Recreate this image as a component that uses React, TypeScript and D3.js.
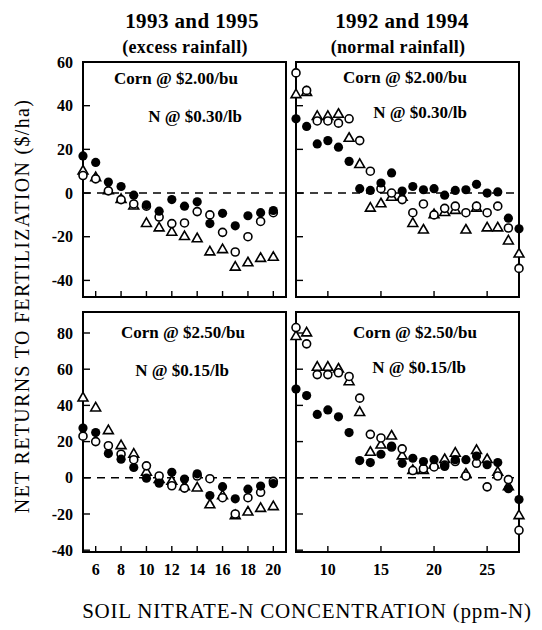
import React from "react";
import * as d3 from "d3";

// ---- data ----
const xLeft = [5, 6, 7, 8, 9, 10, 11, 12, 13, 14, 15, 16, 17, 18, 19, 20];
const xRight = [7, 8, 9, 10, 11, 12, 13, 14, 15, 16, 17, 18, 19, 20, 21, 22, 23, 24, 25, 26, 27, 28];

const tlFilled = [17, 14, 5, 3, -1, -5.4, -8.3, -3, -6, -4, -14, -9.3, -15, -10.4, -9, -8];
const tlOpen = [8, 6.5, 1, -3, -5, -6, -11, -14, -13.7, -8.5, -10, -18, -27, -20, -13, -9];
const tlTri = [10, 7, 1, -3, -6, -14, -16, -18, -20, -21, -27, -26, -34, -32, -30, -29.5];

const trFilled = [34, 30.5, 22.5, 24, 21, 14.5, 2, 1.2, 4.6, 9.2, 0.9, 3, 1.5, 2, -1, 1.2, 1.5, 4, 0, 0.5, -11.5, -16.4];
const trOpen = [55, 47, 33, 33, 32, 34, 24, 10, 2, 0, -3, -9, -5, -10, -7, -6, -9, -6, -9, -6, -16, -34.5];
const trTri = [45, 46, 35, 35, 36, 25, 13, -7, -5, -2, -2, -14, -17, -10, -9, -8, -17, -7, -16, -16, -22, -28];

const blFilled = [27.5, 25, 13.4, 10.3, 5.7, -0.2, -3, 3, -0.7, 2.2, -9.8, -4.9, -11.6, -6.3, -4.6, -3.2];
const blOpen = [23, 20, 17.7, 13, 10, 6.6, 1, -4.4, -5.7, 1, -0.5, -11, -20, -11, -8, -2];
const blTri = [44, 38.5, 26, 17.7, 13, 3, -1, -2, -5, -5.7, -15, -10, -21, -19, -17, -16];

const brFilled = [49, 45.4, 35, 37.5, 33.7, 25, 9.5, 8.4, 13, 17.5, 8, 10.8, 9, 10, 6.3, 10, 10, 12, 7.2, 8.4, -6, -12];
const brOpen = [83, 74, 57, 57, 58, 56, 44, 24, 22, 17, 16, 4, 5, 6, 7, 9, 1, 8, -5, 1, -1, -29];
const brTri = [78, 80, 61, 61, 60, 53, 36, 14, 18, 23, 12, 4, 4, 7, 10, 13.5, 2, 15, 10, 3, -5, -21];

const xTicksLeft = [6, 8, 10, 12, 14, 16, 18, 20];
const xTicksRight = [10, 15, 20, 25];
const yTicksTop = [60, 40, 20, 0, -20, -40];
const yTicksBottom = [80, 60, 40, 20, 0, -20, -40];

const titles = [
  { main: "1993 and 1995", sub: "(excess rainfall)" },
  { main: "1992 and 1994", sub: "(normal rainfall)" },
];
const priceTop = ["Corn @ $2.00/bu", "N @ $0.30/lb"];
const priceBottom = ["Corn @ $2.50/bu", "N @ $0.15/lb"];

// ---- layout ----
const FONT = "'Liberation Serif', 'Times New Roman', serif";
const leftRange: [number, number] = [83, 286];
const rightRange: [number, number] = [296, 519];
const topRange: [number, number] = [297, 62];
const bottomRange: [number, number] = [552, 312];

const xL = d3.scaleLinear().domain([5, 21]).range(leftRange);
const xR = d3.scaleLinear().domain([7, 28]).range(rightRange);
const yT = d3.scaleLinear().domain([-47.6, 60]).range(topRange);
const yB = d3.scaleLinear().domain([-41, 91.6]).range(bottomRange);

const tri = d3.symbol().type(d3.symbolTriangle).size(42)() as string;

type PanelProps = {
  x: d3.ScaleLinear<number, number>;
  y: d3.ScaleLinear<number, number>;
  xs: number[];
  filled: number[];
  open: number[];
  tris: number[];
  xTicks: number[];
  yTicks: number[];
  showYLabels: boolean;
  showXLabels: boolean;
  labels: string[];
  labelPos: { cx: number; by: number }[];
};

function Panel(p: PanelProps) {
  const [x0, x1] = p.x.range();
  const [y0, y1] = p.y.range(); // y0 bottom, y1 top
  return (
    <g>
      <line x1={x0} x2={x1} y1={p.y(0)} y2={p.y(0)} stroke="#000" strokeWidth={1.6} strokeDasharray="8,6" />
      {p.xTicks.map((t) => (
        <line key={"xt" + t} x1={p.x(t)} x2={p.x(t)} y1={y0} y2={y0 - 6} stroke="#000" strokeWidth={1.4} />
      ))}
      {p.yTicks.map((t) => (
        <line key={"yt" + t} x1={x0} x2={x0 + 7} y1={p.y(t)} y2={p.y(t)} stroke="#000" strokeWidth={1.4} />
      ))}
      <rect x={x0} y={y1} width={x1 - x0} height={y0 - y1} fill="none" stroke="#000" strokeWidth={2} />
      {p.showYLabels &&
        p.yTicks.map((t) => (
          <text key={"yl" + t} x={x0 - 10} y={p.y(t)} dy="0.35em" textAnchor="end" fontFamily={FONT} fontWeight="bold" fontSize={16}>
            {t < 0 ? "-" + Math.abs(t) : t}
          </text>
        ))}
      {p.showXLabels &&
        p.xTicks.map((t) => (
          <text key={"xl" + t} x={p.x(t)} y={y0 + 23} textAnchor="middle" fontFamily={FONT} fontWeight="bold" fontSize={16}>
            {t}
          </text>
        ))}
      {p.labels.map((s, i) => (
        <text key={"lb" + i} x={p.labelPos[i].cx} y={p.labelPos[i].by} textAnchor="middle" fontFamily={FONT} fontWeight="bold" fontSize={17}>
          {s}
        </text>
      ))}
      {p.xs.map((xv, i) => (
        <path key={"tr" + i} d={tri} transform={`translate(${p.x(xv)},${p.y(p.tris[i])})`} fill="#fff" stroke="#000" strokeWidth={1.6} />
      ))}
      {p.xs.map((xv, i) => (
        <circle key={"oc" + i} cx={p.x(xv)} cy={p.y(p.open[i])} r={4} fill="#fff" stroke="#000" strokeWidth={1.6} />
      ))}
      {p.xs.map((xv, i) => (
        <circle key={"fc" + i} cx={p.x(xv)} cy={p.y(p.filled[i])} r={4.6} fill="#000" />
      ))}
    </g>
  );
}

export default function App() {
  return (
    <svg width={542} height={630} style={{ position: "absolute", left: 0, top: 0, background: "#fff" }}>
      <rect width={542} height={630} fill="#fff" />
      <text x={192} y={28} textAnchor="middle" fontFamily={FONT} fontWeight="bold" fontSize={21} letterSpacing={0.4}>{titles[0].main}</text>
      <text x={185} y={53} textAnchor="middle" fontFamily={FONT} fontWeight="bold" fontSize={18} letterSpacing={0.3}>{titles[0].sub}</text>
      <text x={402} y={28} textAnchor="middle" fontFamily={FONT} fontWeight="bold" fontSize={21} letterSpacing={0.4}>{titles[1].main}</text>
      <text x={398} y={53} textAnchor="middle" fontFamily={FONT} fontWeight="bold" fontSize={18} letterSpacing={0.3}>{titles[1].sub}</text>

      <Panel x={xL} y={yT} xs={xLeft} filled={tlFilled} open={tlOpen} tris={tlTri} xTicks={xTicksLeft} yTicks={yTicksTop}
        showYLabels={true} showXLabels={false} labels={priceTop}
        labelPos={[{ cx: 176, by: 84 }, { cx: 195, by: 122 }]} />
      <Panel x={xR} y={yT} xs={xRight} filled={trFilled} open={trOpen} tris={trTri} xTicks={xTicksRight} yTicks={yTicksTop}
        showYLabels={false} showXLabels={false} labels={priceTop}
        labelPos={[{ cx: 405, by: 83 }, { cx: 420, by: 118 }]} />
      <Panel x={xL} y={yB} xs={xLeft} filled={blFilled} open={blOpen} tris={blTri} xTicks={xTicksLeft} yTicks={yTicksBottom}
        showYLabels={true} showXLabels={true} labels={priceBottom}
        labelPos={[{ cx: 183, by: 338 }, { cx: 182, by: 376 }]} />
      <Panel x={xR} y={yB} xs={xRight} filled={brFilled} open={brOpen} tris={brTri} xTicks={xTicksRight} yTicks={yTicksBottom}
        showYLabels={false} showXLabels={true} labels={priceBottom}
        labelPos={[{ cx: 415, by: 338 }, { cx: 419, by: 373 }]} />

      <text transform="translate(29,306) rotate(-90)" textAnchor="middle" fontFamily={FONT} fontSize={20} letterSpacing={1.3}>
        NET RETURNS TO FERTILIZATION ($/ha)
      </text>
      <text x={307} y={618} textAnchor="middle" fontFamily={FONT} fontSize={21} letterSpacing={0.8}>
        SOIL NITRATE-N CONCENTRATION (ppm-N)
      </text>
    </svg>
  );
}
